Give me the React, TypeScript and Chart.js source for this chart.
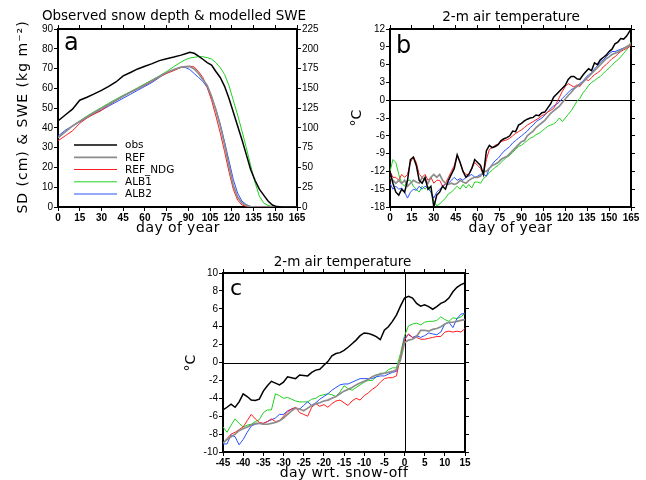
import React, { useEffect, useRef } from 'react';
import { Chart, registerables } from 'chart.js';

Chart.register(...registerables);

// ---------------- Panel a: snow depth / SWE ----------------
const A_DAYS = [0, 5, 10, 15, 20, 25, 30, 35, 40, 45, 50, 55, 60, 65, 70, 75, 80, 85,
  88, 91, 94, 97, 100, 103, 106, 109, 112, 115, 118, 121, 124, 127, 130, 133, 136, 139, 142, 145, 148, 151,
  155, 160, 165];
const A_OBS = [43.5, 46.5, 49.5, 54, 55.5, 57.2, 59, 61, 63.2, 66.3, 68, 69.8, 71.2, 72.5, 74, 75, 75.8, 76.8,
  77.5, 78.2, 77.7, 76.3, 74.7, 73, 71.8, 68.5, 65.5, 61, 55, 48, 41, 34, 26.5, 19, 13.5, 9, 6, 3, 1, 0.2,
  0, 0, 0];
const A_REF = [35, 38, 41, 43.3, 45.5, 47.8, 49.8, 51.8, 54, 56, 58, 59.8, 61.8, 63.8, 66, 68, 69.5, 70.7,
  71, 71, 69.8, 67.5, 64.5, 61.5, 56, 49, 41, 31.5, 21, 11, 5, 2, 0.8, 0.2, 0, 0, 0, 0, 0, 0,
  0, 0, 0];
const A_REF_NDG = [33.5, 36, 38.5, 42.3, 45, 47, 48.8, 51.5, 53.8, 56, 58, 59.8, 61.5, 63.5, 65.8, 67.5, 69, 70.6,
  71, 71.2, 70.8, 68.5, 65.5, 60.5, 54, 46, 37.5, 28, 18, 9, 3.5, 1, 0.3, 0, 0, 0, 0, 0, 0, 0,
  0, 0, 0];
const A_ALB1 = [35, 38, 41, 43.5, 46, 48.2, 50.3, 52.5, 54.5, 56.5, 58.3, 60.3, 62.3, 64.3, 66.3, 68.5, 71, 73.3,
  74.5, 75.3, 75.7, 76, 76, 75.5, 74.8, 73, 70.5, 67, 61.5, 54, 46.5, 38.5, 30, 21, 12.5, 5.5, 2, 0.8, 0.2, 0,
  0, 0, 0];
const A_ALB2 = [35.8, 38.8, 41, 43, 45.2, 47.3, 49, 51, 53, 55, 57, 59, 61, 63, 65.5, 67.8, 69.5, 70.6,
  70.5, 69.5, 67.5, 65.5, 63.5, 60.5, 55.5, 49.5, 42, 33, 23.5, 14, 7, 3, 1.2, 0.3, 0, 0, 0, 0, 0, 0,
  0, 0, 0];

// ---------------- Panel b: 2-m air temperature by day of year ----------------
const B_DAYS = [0, 2, 4, 6, 8, 10, 12, 14, 16, 18,
  20, 22, 24, 26, 28, 30, 32, 34, 36, 38,
  40, 42, 44, 46, 48, 50, 52, 54, 56, 58,
  60, 62, 64, 66, 68, 70, 72, 74, 76, 78,
  80, 82, 84, 86, 88, 90, 92, 94, 96, 98,
  100, 102, 104, 106, 108, 110, 112, 114, 116, 118,
  120, 122, 124, 126, 128, 130, 132, 134, 136, 138,
  140, 142, 144, 146, 148, 150, 152, 154, 156, 158,
  160, 162, 164, 165];
const B_OBS = [-12.0, -14.0, -15.5, -16.0, -15.0, -15.5, -13.5, -10.0, -9.6, -11.0,
  -13.5, -14.0, -13.0, -15.0, -14.5, -18.0, -16.0, -15.5, -14.5, -15.0,
  -13.5, -12.5, -11.5, -9.2, -10.5, -12.0, -13.0, -12.5, -11.5, -10.0,
  -10.5, -11.0, -12.5, -8.5, -7.6, -8.0, -7.8, -7.5, -6.8, -6.5,
  -6.3, -6.0, -5.2, -5.3, -4.2, -3.9, -3.5, -3.2, -3.0, -2.9,
  -2.5, -2.6, -2.1, -2.0, -1.3, -0.6, 0.5, 1.0, 1.5, 2.0,
  2.5, 3.5, 4.0, 4.0, 3.6, 3.5, 4.2, 4.8, 5.3, 5.0,
  6.3, 6.0, 6.8, 7.2, 7.6, 8.2, 8.6, 9.5, 9.8, 10.4,
  10.3, 10.8, 11.6, 12.0];
const B_REF = [-13.0, -13.5, -14.0, -13.5, -14.0, -13.5, -14.5, -14.0, -13.5, -13.8,
  -14.0, -13.0, -13.5, -14.0, -13.0, -12.5, -13.0, -12.5, -13.5, -14.0,
  -14.2, -14.0, -14.2, -14.0, -13.5, -13.8, -14.0, -13.5, -13.2, -13.0,
  -13.0, -12.8, -12.0, -12.0, -11.5, -11.0, -10.8, -10.5, -10.0, -9.7,
  -9.5, -9.0, -8.5, -8.0, -7.5, -7.0, -6.8, -6.0, -5.6, -5.2,
  -4.6, -4.2, -3.8, -3.4, -2.8, -2.2, -1.8, -1.4, -1.0, -0.4,
  0.2, 0.8, 1.3, 1.9, 2.3, 2.6, 3.0, 3.5, 4.0, 4.5,
  5.0, 5.5, 6.0, 6.5, 7.0, 7.3, 7.7, 7.9, 8.1, 8.4,
  8.7, 9.0, 9.3, 9.6];
const B_REF_NDG = [-12.0, -13.0, -13.0, -13.5, -12.5, -13.0, -12.5, -10.5, -9.5, -10.5,
  -12.5, -13.0, -12.5, -13.5, -13.0, -14.0, -13.5, -13.5, -14.5, -14.0,
  -13.0, -12.0, -11.0, -9.2, -10.5, -12.0, -12.5, -12.5, -11.5, -10.5,
  -11.0, -11.5, -12.5, -10.0, -8.3, -8.0, -7.6, -7.4, -7.0, -6.8,
  -6.7, -6.4, -6.0, -5.6, -5.3, -5.0, -4.6, -4.2, -3.9, -3.6,
  -3.3, -3.0, -2.6, -2.4, -2.0, -1.7, -1.4, -0.5, 0.5, 1.5,
  2.3, 2.8, 2.5, 2.2, 2.6, 2.3, 3.0, 3.5, 3.3, 3.8,
  4.3, 4.6, 5.0, 5.6, 6.0, 6.5, 7.0, 7.3, 7.8, 8.2,
  8.5, 8.7, 9.0, 9.3];
const B_ALB1 = [-12.0, -10.0, -10.5, -12.5, -14.0, -14.5, -13.5, -13.5, -14.5, -15.0,
  -15.5, -14.5, -15.0, -14.5, -15.5, -17.0, -17.8, -17.5, -17.0, -16.5,
  -15.8, -15.5, -15.0, -14.5, -15.0, -14.2, -14.8, -14.2, -14.8, -13.8,
  -13.8, -14.0, -13.2, -12.8, -12.2, -11.8, -11.3, -11.0, -10.5, -10.0,
  -9.6, -9.3, -8.8, -8.3, -7.8, -7.6, -7.2, -6.8, -6.4, -6.2,
  -5.8, -5.6, -5.2, -4.8, -4.4, -4.2, -4.0, -3.6, -3.0, -3.6,
  -3.0, -2.4, -1.8, -1.0, -0.2, 0.3, 1.2, 1.8, 2.5, 3.0,
  3.3, 3.7, 4.0, 4.5, 5.0, 5.4, 5.9, 6.4, 6.8, 7.3,
  7.9, 8.5, 9.3, 9.8];
const B_ALB2 = [-14.0, -15.0, -14.5, -15.0, -14.8, -15.5, -16.5, -15.5, -15.0, -15.2,
  -14.5, -15.0, -14.5, -14.8, -15.5, -16.5, -15.5, -15.0, -14.5, -14.2,
  -14.0, -13.5, -13.0, -13.5, -13.2, -13.5, -13.0, -12.8, -12.5, -13.0,
  -12.8, -12.5, -12.5, -12.8, -11.5, -10.8, -10.2, -9.8, -9.2, -8.6,
  -8.2, -7.8, -7.2, -6.8, -6.4, -6.0, -5.6, -5.2, -4.6, -4.2,
  -3.6, -3.3, -3.0, -2.5, -2.0, -1.4, -1.0, -0.7, -0.3, 0.3,
  0.8, 1.3, 1.8, 2.0, 2.4, 2.8, 3.2, 3.8, 4.3, 4.6,
  5.3, 5.8, 6.4, 6.8, 7.3, 7.8, 8.2, 8.2, 8.4, 8.6,
  8.8, 9.0, 9.3, 9.6];

// ---------------- Panel c: 2-m air temperature relative to snow-off ----------------
const C_DAYS = [-45, -44, -43, -42, -41, -40, -39, -38, -37, -36,
  -35, -34, -33, -32, -31, -30, -29, -28, -27, -26,
  -25, -24, -23, -22, -21, -20, -19, -18, -17, -16,
  -15, -14, -13, -12, -11, -10, -9, -8, -7, -6,
  -5, -4, -3, -2, -1, 0, 1, 2, 3, 4,
  5, 6, 7, 8, 9, 10, 11, 12, 13, 14,
  15];
const C_OBS = [-5.3, -5.0, -4.65, -5.0, -4.4, -3.5, -3.8, -4.2, -4.25, -4.1,
  -3.2, -2.6, -2.1, -2.3, -2.5, -2.2, -1.6, -1.7, -1.8, -1.4,
  -1.45, -1.5, -1.1, -0.85, -0.75, -0.3, 0.1, 0.75, 1.0, 1.1,
  1.35, 1.7, 2.1, 2.5, 3.0, 3.3, 3.25, 3.1, 2.9, 2.55,
  3.6, 4.0, 4.6, 5.3, 6.3, 7.2, 7.4, 7.2, 6.6, 6.3,
  6.45, 6.25, 5.95, 6.25, 6.6, 6.8, 7.2, 7.9, 8.4, 8.7,
  8.9];
const C_REF = [-9.0, -8.6, -8.3, -8.0, -7.6, -7.4, -7.2, -7.0, -6.8, -6.8,
  -6.9, -6.9, -6.8, -6.7, -6.5, -6.2, -5.8, -5.4, -5.1, -5.2,
  -5.4, -5.1, -4.8, -4.6, -4.5, -4.3, -4.2, -4.0, -3.8, -3.5,
  -3.2, -3.0, -2.8, -2.5, -2.3, -2.1, -1.9, -1.6, -1.4, -1.3,
  -1.2, -1.1, -1.0, -0.8, 0.3, 2.2, 2.5, 2.6, 2.9, 3.6,
  3.6, 3.5, 3.7, 3.8, 4.0, 4.3, 4.5, 4.5, 4.6, 4.7,
  4.8];
const C_REF_NDG = [-9.0, -8.5, -8.0, -7.8, -7.5, -7.2, -6.5, -5.8, -6.3, -6.7,
  -6.8, -6.6, -6.3, -6.6, -6.5, -6.0, -5.5, -5.2, -5.0, -5.6,
  -5.8, -6.0, -5.0, -4.6, -4.9, -4.7, -5.0, -4.6, -4.3, -4.2,
  -4.5, -4.8, -4.3, -4.0, -4.2, -3.7, -3.4, -3.0, -2.7, -2.2,
  -1.8, -1.7, -1.7, -1.5, 0.6, 2.5, 3.2, 2.8, 2.8, 2.6,
  2.6, 2.7, 2.8, 2.9, 2.9, 3.4, 3.5, 3.4, 3.5, 3.4,
  3.8];
const C_ALB1 = [-7.2, -7.8, -7.0, -6.3, -6.8, -7.2, -7.0, -6.9, -6.6, -6.4,
  -5.6, -5.3, -5.3, -3.5, -3.7, -4.0, -3.9, -4.1, -4.3, -4.4,
  -4.4, -4.4, -4.1, -4.0, -3.7, -3.6, -3.5, -3.6, -3.8, -3.3,
  -2.6, -2.9, -3.1, -2.8, -2.5, -2.2, -2.0, -2.0, -1.6, -1.2,
  -1.2, -0.8, -0.6, -0.6, 1.0, 3.0, 4.1, 4.3, 4.4, 4.2,
  4.5, 4.6, 4.6, 4.7, 5.1, 4.8, 4.6, 5.0, 4.9, 5.1,
  5.5];
const C_ALB2 = [-9.1, -9.1, -8.1, -8.3, -9.2, -8.6, -7.8, -7.1, -6.9, -6.8,
  -6.8, -6.6, -6.4, -6.2, -5.8, -5.8, -5.4, -5.2, -5.1, -5.2,
  -4.8, -4.4, -4.8, -4.5, -4.1, -3.8, -3.5, -3.1, -2.8, -2.5,
  -2.4, -2.4, -2.2, -2.0, -1.8, -1.8, -1.8, -1.8, -1.6, -1.5,
  -1.5, -1.3, -1.1, -1.0, 0.3, 2.8, 3.1, 2.8, 3.0, 2.8,
  3.0, 3.3, 3.2, 3.1, 3.4, 4.3, 4.5, 3.9, 4.9, 5.4,
  5.5];

// ---------------- styling ----------------
const SERIES_STYLE = [
  { label: 'obs', color: '#000000', width: 1.5, order: 0 },
  { label: 'REF', color: '#8c8c8c', width: 1.7, order: 1 },
  { label: 'REF_NDG', color: '#ff1c1c', width: 1, order: 2 },
  { label: 'ALB1', color: '#1ed21e', width: 1, order: 4 },
  { label: 'ALB2', color: '#2a50ff', width: 1, order: 3 },
];

const TEXT_FAMILY = "'DejaVu Sans', 'Liberation Sans', sans-serif";
const TICK_FAMILY = "'Liberation Sans', Arial, sans-serif";

function makeDatasets(xs: number[], series: number[][]) {
  return series.map((vals, i) => ({
    label: SERIES_STYLE[i].label,
    data: xs.map((x, j) => ({ x, y: vals[j] })),
    borderColor: SERIES_STYLE[i].color,
    backgroundColor: SERIES_STYLE[i].color,
    borderWidth: SERIES_STYLE[i].width,
    pointRadius: 0,
    tension: 0,
    fill: false,
    order: SERIES_STYLE[i].order,
    xAxisID: 'x',
    yAxisID: 'y',
  }));
}

function axis(position: string, min: number, max: number, step: number, size: number, labels: boolean) {
  const horizontal = position === 'top' || position === 'bottom';
  return {
    type: 'linear',
    position,
    min,
    max,
    grid: { display: true, drawOnChartArea: false, drawTicks: true, tickLength: 4, color: '#000', lineWidth: 1 },
    border: { display: true, color: '#000', width: 2 },
    ticks: {
      display: labels,
      stepSize: step,
      autoSkip: false,
      maxTicksLimit: 100,
      maxRotation: 0,
      minRotation: 0,
      padding: 1,
      color: '#000',
      font: { family: TICK_FAMILY, size: 10, weight: horizontal ? 'bold' : 'normal' },
    },
    afterFit: (s: any) => {
      if (horizontal) s.height = size;
      else s.width = size;
    },
  };
}

type TextItem = { text: string; x: number; y: number; font: string; align?: CanvasTextAlign; baseline?: CanvasTextBaseline; rotate?: number; spacing?: string };

function decorPlugin(texts: TextItem[], zeroH: boolean, zeroV: boolean, legend: boolean) {
  return {
    id: 'decor',
    beforeDatasetsDraw(chart: any) {
      const ctx = chart.ctx;
      const ca = chart.chartArea;
      ctx.save();
      ctx.strokeStyle = '#000';
      ctx.lineWidth = 1;
      if (zeroH) {
        const y = Math.round(chart.scales.y.getPixelForValue(0)) + 0.5;
        ctx.beginPath();
        ctx.moveTo(ca.left, y);
        ctx.lineTo(ca.right, y);
        ctx.stroke();
      }
      if (zeroV) {
        const x = Math.round(chart.scales.x.getPixelForValue(0)) + 0.5;
        ctx.beginPath();
        ctx.moveTo(x, ca.top);
        ctx.lineTo(x, ca.bottom);
        ctx.stroke();
      }
      ctx.restore();
    },
    afterDraw(chart: any) {
      const ctx = chart.ctx;
      for (const t of texts) {
        ctx.save();
        ctx.font = t.font;
        ctx.fillStyle = '#000';
        ctx.textAlign = t.align || 'center';
        ctx.textBaseline = t.baseline || 'middle';
        (ctx as any).letterSpacing = t.spacing || '0px';
        ctx.translate(t.x, t.y);
        if (t.rotate) ctx.rotate(t.rotate);
        ctx.fillText(t.text, 0, 0);
        ctx.restore();
      }
      if (legend) {
        const rows = [145, 157.3, 169.5, 181.8, 194];
        chart.data.datasets.forEach((ds: any, i: number) => {
          const y = rows[i];
          ctx.save();
          ctx.strokeStyle = ds.borderColor;
          ctx.lineWidth = ds.borderWidth;
          ctx.beginPath();
          ctx.moveTo(74, y);
          ctx.lineTo(117, y);
          ctx.stroke();
          ctx.fillStyle = '#000';
          ctx.font = `10.5px ${TEXT_FAMILY}`;
          ctx.textAlign = 'left';
          ctx.textBaseline = 'middle';
          ctx.fillText(ds.label, 125, y + 0.5);
          ctx.restore();
        });
      }
    },
  };
}

function configA() {
  return {
    type: 'line',
    data: { datasets: makeDatasets(A_DAYS, [A_OBS, A_REF, A_REF_NDG, A_ALB1, A_ALB2]) },
    options: {
      animation: false,
      responsive: false,
      devicePixelRatio: 1,
      layout: { padding: 0 },
      plugins: { legend: { display: false }, tooltip: { enabled: false }, title: { display: false } },
      scales: {
        x: axis('bottom', 0, 165, 15, 33, true),
        xTop: axis('top', 0, 165, 15, 29, false),
        y: axis('left', 0, 90, 10, 58, true),
        y2: axis('right', 0, 225, 25, 33, true),
      },
    },
    plugins: [decorPlugin([
      { text: 'Observed snow depth & modelled SWE', x: 174, y: 16, font: `13.5px ${TEXT_FAMILY}` },
      { text: 'SD (cm) & SWE (kg m⁻²)', x: 23, y: 117, font: `14px ${TEXT_FAMILY}`, rotate: -Math.PI / 2, spacing: '1px' },
      { text: 'day of year', x: 178, y: 228, font: `14px ${TEXT_FAMILY}`, spacing: '0.4px' },
      { text: 'a', x: 64, y: 50, font: `24px ${TEXT_FAMILY}`, align: 'left', baseline: 'alphabetic' },
    ], false, false, true)],
  };
}

function configB() {
  return {
    type: 'line',
    data: { datasets: makeDatasets(B_DAYS, [B_OBS, B_REF, B_REF_NDG, B_ALB1, B_ALB2]) },
    options: {
      animation: false,
      responsive: false,
      devicePixelRatio: 1,
      layout: { padding: 0 },
      plugins: { legend: { display: false }, tooltip: { enabled: false }, title: { display: false } },
      scales: {
        x: axis('bottom', 0, 165, 15, 33, true),
        xTop: axis('top', 0, 165, 15, 29, false),
        y: axis('left', -18, 12, 3, 60, true),
        y2: axis('right', -18, 12, 3, 15, false),
      },
    },
    plugins: [decorPlugin([
      { text: '2-m air temperature', x: 181, y: 17, font: `13.5px ${TEXT_FAMILY}` },
      { text: '°C', x: 27.5, y: 118, font: `14px ${TEXT_FAMILY}`, rotate: -Math.PI / 2 },
      { text: 'day of year', x: 180.5, y: 228, font: `14px ${TEXT_FAMILY}`, spacing: '0.4px' },
      { text: 'b', x: 66, y: 53, font: `24px ${TEXT_FAMILY}`, align: 'left', baseline: 'alphabetic' },
    ], true, false, false)],
  };
}

function configC() {
  return {
    type: 'line',
    data: { datasets: makeDatasets(C_DAYS, [C_OBS, C_REF, C_REF_NDG, C_ALB1, C_ALB2]) },
    options: {
      animation: false,
      responsive: false,
      devicePixelRatio: 1,
      layout: { padding: 0 },
      plugins: { legend: { display: false }, tooltip: { enabled: false }, title: { display: false } },
      scales: {
        x: axis('bottom', -45, 15, 5, 28, true),
        xTop: axis('top', -45, 15, 5, 23, false),
        y: axis('left', -10, 10, 2, 53, true),
        y2: axis('right', -10, 10, 2, 25, false),
      },
    },
    plugins: [decorPlugin([
      { text: '2-m air temperature', x: 172.5, y: 12, font: `13.5px ${TEXT_FAMILY}` },
      { text: '°C', x: 21.5, y: 113, font: `14px ${TEXT_FAMILY}`, rotate: -Math.PI / 2 },
      { text: 'day wrt. snow-off', x: 174, y: 223, font: `14px ${TEXT_FAMILY}`, spacing: '0.4px' },
      { text: 'c', x: 60, y: 45, font: `22px ${TEXT_FAMILY}`, align: 'left', baseline: 'alphabetic' },
    ], true, true, false)],
  };
}

function Panel(props: { left: number; top: number; width: number; height: number; make: () => any }) {
  const ref = useRef<HTMLCanvasElement>(null);
  useEffect(() => {
    const chart = new Chart(ref.current as HTMLCanvasElement, props.make());
    return () => chart.destroy();
  }, []);
  return (
    <div style={{ position: 'absolute', left: props.left, top: props.top, width: props.width, height: props.height }}>
      <canvas ref={ref} width={props.width} height={props.height} style={{ width: props.width, height: props.height, display: 'block' }} />
    </div>
  );
}

export default function App() {
  return (
    <div style={{ position: 'absolute', left: 0, top: 0, width: 646, height: 480, background: '#ffffff', overflow: 'hidden' }}>
      <Panel left={0} top={0} width={330} height={240} make={configA} />
      <Panel left={330} top={0} width={316} height={240} make={configB} />
      <Panel left={170} top={250} width={320} height={230} make={configC} />
    </div>
  );
}
